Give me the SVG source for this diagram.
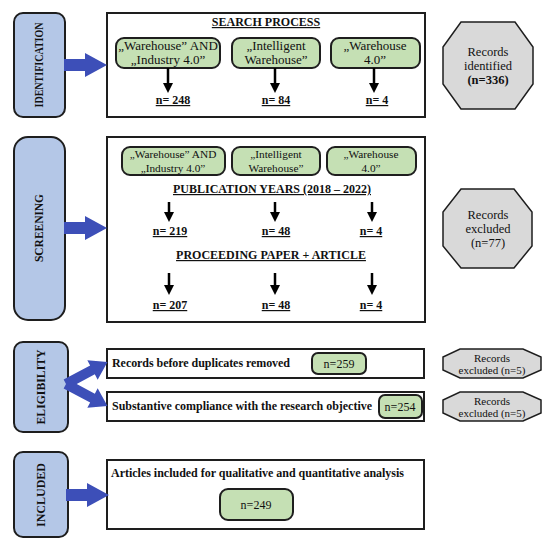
<svg xmlns="http://www.w3.org/2000/svg" width="550" height="548" viewBox="0 0 550 548">
<style>
.side{fill:#b4c7e7;stroke:#1e1e1e;stroke-width:2}
.main{fill:#fff;stroke:#1e1e1e;stroke-width:2}
.pill{fill:#c5e0b4;stroke:#1e1e1e;stroke-width:2}
.oct{fill:#d9d9d9;stroke:#1e1e1e;stroke-width:1.5}
.blue{fill:#3d4fb8}
text{font-family:"Liberation Serif","Times New Roman",serif;fill:#111}
.lab{font-size:12px;font-weight:bold}
.title{font-size:12px;font-weight:bold;text-decoration:underline;text-anchor:middle}
.n{font-size:12px;font-weight:bold;text-decoration:underline;text-anchor:middle}
.pt{font-size:13px;text-anchor:middle}
.ps{font-size:12px;text-anchor:middle}
.pss{font-size:11.3px;text-anchor:middle}
.ot{font-size:12.5px;text-anchor:middle}
.st{font-size:11px;text-anchor:middle}
.bt{font-size:12px;font-weight:bold}
.arr{stroke:#000;stroke-width:2.5}
</style>
<defs>
<path id="barrow" d="M0,-6 H21 V-12 L43,0 L21,12 V6 H0 Z"/>
<path id="earrow" d="M0,-5 H30 V-11 L47,0 L30,11 V5 H0 Z"/>
</defs>

<g id="identification">
<rect x="14" y="13" width="51" height="104" rx="9" class="side"/>
<text class="lab" transform="translate(43,65) rotate(-90)" text-anchor="middle" textLength="85" lengthAdjust="spacingAndGlyphs">IDENTIFICATION</text>
</g>
<g id="search-process">
<rect x="107" y="13" width="318" height="104" class="main"/>
<text class="title" x="266" y="26">SEARCH PROCESS</text>
<rect x="116" y="38" width="104" height="30" rx="8" class="pill"/>
<text class="pt" x="168" y="50">„Warehouse” AND</text>
<text class="pt" x="168" y="64">„Industry 4.0”</text>
<rect x="232" y="38" width="88" height="30" rx="8" class="pill"/>
<text class="pt" x="276" y="50">„Intelligent</text>
<text class="pt" x="276" y="64">Warehouse”</text>
<rect x="331" y="38" width="89" height="30" rx="8" class="pill"/>
<text class="pt" x="375" y="50">„Warehouse</text>
<text class="pt" x="375" y="64">4.0”</text>
<text class="n" x="173" y="104">n= 248</text>
<text class="n" x="276" y="104">n= 84</text>
<text class="n" x="377" y="104">n= 4</text>
</g>
<g id="records-identified">
<polygon points="461,22 515,22 533,47 533,84 515,109 461,109 443,84 443,47" class="oct"/>
<text class="ot" x="488" y="56">Records</text>
<text class="ot" x="488" y="70">identified</text>
<text class="ot" x="488" y="84" font-weight="bold">(n=336)</text>
</g>

<g id="screening">
<rect x="14" y="137" width="51" height="183" rx="14" class="side"/>
<text class="lab" transform="translate(43,228) rotate(-90)" text-anchor="middle" textLength="68" lengthAdjust="spacingAndGlyphs">SCREENING</text>
</g>
<g id="screening-box">
<rect x="107" y="137" width="318" height="185" class="main"/>
<rect x="122" y="147" width="103" height="28" rx="8" class="pill"/>
<text class="pss" x="173" y="158.3">„Warehouse” AND</text>
<text class="pss" x="173" y="171.5">„Industry 4.0”</text>
<rect x="232" y="147" width="88" height="28" rx="8" class="pill"/>
<text class="pss" x="276" y="158.3">„Intelligent</text>
<text class="pss" x="276" y="171.5">Warehouse”</text>
<rect x="327" y="147" width="89" height="28" rx="8" class="pill"/>
<text class="pss" x="371" y="158.3">„Warehouse</text>
<text class="pss" x="371" y="171.5">4.0”</text>
<text class="title" x="272" y="193">PUBLICATION YEARS (2018 – 2022)</text>
<text class="n" x="170" y="235">n= 219</text>
<text class="n" x="276" y="235">n= 48</text>
<text class="n" x="371" y="235">n= 4</text>
<text class="title" x="271" y="259">PROCEEDING PAPER + ARTICLE</text>
<text class="n" x="170" y="309">n= 207</text>
<text class="n" x="276" y="309">n= 48</text>
<text class="n" x="371" y="309">n= 4</text>
</g>
<g id="records-excluded">
<polygon points="461,189 514,189 532,212 532,246 514,268 461,268 443,246 443,212" class="oct"/>
<text class="ot" x="488" y="219">Records</text>
<text class="ot" x="488" y="233">excluded</text>
<text class="ot" x="488" y="247">(n=77)</text>
</g>

<g id="eligibility">
<rect x="14" y="342" width="54" height="90" rx="9" class="side"/>
<text class="lab" transform="translate(45,387) rotate(-90)" text-anchor="middle" textLength="75" lengthAdjust="spacingAndGlyphs">ELIGIBILITY</text>
</g>
<g id="duplicates">
<rect x="107" y="349" width="317" height="29" class="main" stroke-width="1.5"/>
<text class="bt" x="112" y="367" textLength="178" lengthAdjust="spacing">Records before duplicates removed</text>
<rect x="312" y="353" width="54" height="21" rx="6" class="pill"/>
<text class="ps" x="339" y="368">n=259</text>
</g>
<g id="compliance">
<rect x="107" y="392" width="317" height="29" class="main" stroke-width="1.5"/>
<text class="bt" x="112" y="410" textLength="260" lengthAdjust="spacing">Substantive compliance with the research objective</text>
<rect x="379" y="395" width="43" height="23" rx="6" class="pill"/>
<text class="ps" x="400" y="411">n=254</text>
</g>
<g id="excluded-1">
<polygon points="460,349 523,349 541,357 541,370 523,378 460,378 443,370 443,357" class="oct"/>
<text class="st" x="492" y="362">Records</text>
<text class="st" x="492" y="374">excluded (n=5)</text>
</g>
<g id="excluded-2">
<polygon points="460,392 523,392 541,400 541,413 523,421 460,421 443,413 443,400" class="oct"/>
<text class="st" x="492" y="405">Records</text>
<text class="st" x="492" y="417">excluded (n=5)</text>
</g>

<g id="included">
<rect x="14" y="452" width="54" height="85" rx="9" class="side"/>
<text class="lab" transform="translate(45,495) rotate(-90)" text-anchor="middle" textLength="64" lengthAdjust="spacingAndGlyphs">INCLUDED</text>
</g>
<g id="articles">
<rect x="107" y="460" width="317" height="69" class="main"/>
<text class="bt" x="111" y="477" textLength="293" lengthAdjust="spacing">Articles included for qualitative and quantitative analysis</text>
<rect x="220" y="489" width="73" height="31" rx="8" class="pill"/>
<text class="ps" x="256" y="509">n=249</text>
</g>

<g id="connectors">
<use href="#barrow" class="blue" transform="translate(64,65)"/>
<use href="#barrow" class="blue" transform="translate(64,228)"/>
<use href="#earrow" class="blue" transform="translate(66,384) rotate(-28)"/>
<use href="#earrow" class="blue" transform="translate(66,384) rotate(28)"/>
<use href="#barrow" class="blue" transform="translate(66,495)"/>
<line x1="168" y1="68" x2="168" y2="85" class="arr"/><polygon points="163,83 173,83 168,93"/>
<line x1="275" y1="68" x2="275" y2="85" class="arr"/><polygon points="270,83 280,83 275,93"/>
<line x1="374" y1="68" x2="374" y2="85" class="arr"/><polygon points="369,83 379,83 374,93"/>
<line x1="169" y1="202" x2="169" y2="214" class="arr"/><polygon points="164,212 174,212 169,222"/>
<line x1="275" y1="202" x2="275" y2="214" class="arr"/><polygon points="270,212 280,212 275,222"/>
<line x1="372" y1="202" x2="372" y2="214" class="arr"/><polygon points="367,212 377,212 372,222"/>
<line x1="169" y1="273" x2="169" y2="287" class="arr"/><polygon points="164,285 174,285 169,295"/>
<line x1="275" y1="273" x2="275" y2="287" class="arr"/><polygon points="270,285 280,285 275,295"/>
<line x1="372" y1="273" x2="372" y2="287" class="arr"/><polygon points="367,285 377,285 372,295"/>
</g>
</svg>
